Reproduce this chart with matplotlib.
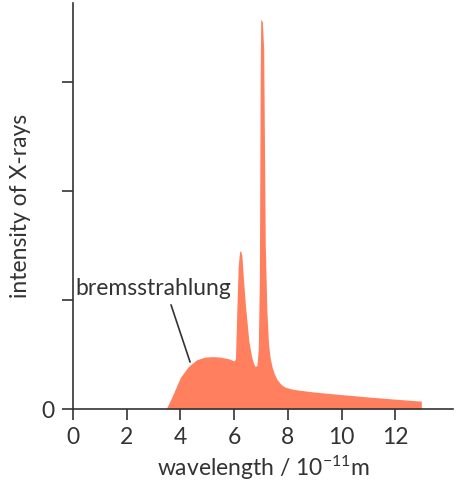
import matplotlib
matplotlib.use("Agg")
import matplotlib.pyplot as plt

# wavelength (1e-11 m) and intensity (arbitrary units)
wavelength = [3.47, 3.7, 4.0, 4.3, 4.6, 4.9, 5.2, 5.5, 5.8, 6.0, 6.05, 6.1, 6.15,
              6.2, 6.24, 6.29, 6.33, 6.42, 6.55, 6.65, 6.72, 6.78, 6.85, 6.9,
              6.94, 6.97, 6.99, 7.05, 7.1, 7.16, 7.22, 7.28, 7.34, 7.42, 7.5,
              7.6, 7.75, 7.9, 8.2, 8.5, 9.0, 10.0, 11.0, 12.0, 12.97, 12.971]
intensity = [0.0, 0.12, 0.29, 0.39, 0.45, 0.475, 0.48, 0.475, 0.46, 0.44, 0.46,
             0.9, 1.3, 1.44, 1.45, 1.4, 1.25, 0.95, 0.62, 0.48, 0.42, 0.39,
             0.4, 0.55, 1.2, 3.0, 3.57, 3.55, 3.3, 1.5, 0.9, 0.6, 0.47, 0.38,
             0.32, 0.27, 0.225, 0.2, 0.18, 0.17, 0.155, 0.132, 0.11, 0.09,
             0.072, 0.0]

x_ticks = [0, 2, 4, 6, 8, 10, 12]
y_ticks = [0, 1, 2, 3]
y_tick_labels = ["0", "", "", ""]

plt.rcParams['font.family'] = ['Lato', 'DejaVu Sans']
plt.rcParams['mathtext.fontset'] = 'custom'
plt.rcParams['mathtext.rm'] = 'Lato'
plt.rcParams['mathtext.it'] = 'Lato'

ink = '#333333'
fs = 16.5
fig = plt.figure(figsize=(4.58, 4.92), dpi=100)
ax = fig.add_axes([73/458, 83/492, 380/458, 406/492])

ax.fill_between(wavelength, intensity, 0, color='#ff7f5f', linewidth=0)

ax.set_xlim(0, 14.15)
ax.set_ylim(0, 3.72)
ax.set_xticks(x_ticks)
ax.set_yticks(y_ticks)
ax.set_yticklabels(y_tick_labels)
for s in ['top', 'right']:
    ax.spines[s].set_visible(False)
for s in ['left', 'bottom']:
    ax.spines[s].set_color(ink)
    ax.spines[s].set_linewidth(1.2)
ax.tick_params(axis='both', direction='out', length=8, width=1.2, color=ink,
               labelcolor=ink, labelsize=fs, pad=5)

ax.set_xlabel('wavelength / 10$^{-11}$m', fontsize=fs, color=ink, labelpad=4)
ax.set_ylabel('intensity of X-rays', fontsize=fs, color=ink, labelpad=8)

ax.annotate('bremsstrahlung', xy=(4.36, 0.43), xytext=(0.1, 1.1),
            fontsize=fs, color=ink, va='center', ha='left',
            arrowprops=dict(arrowstyle='-', color=ink, lw=1.2,
                            shrinkA=2, shrinkB=0,
                            relpos=(0.6, 0.0)))

fig.savefig('out.png', dpi=100)
